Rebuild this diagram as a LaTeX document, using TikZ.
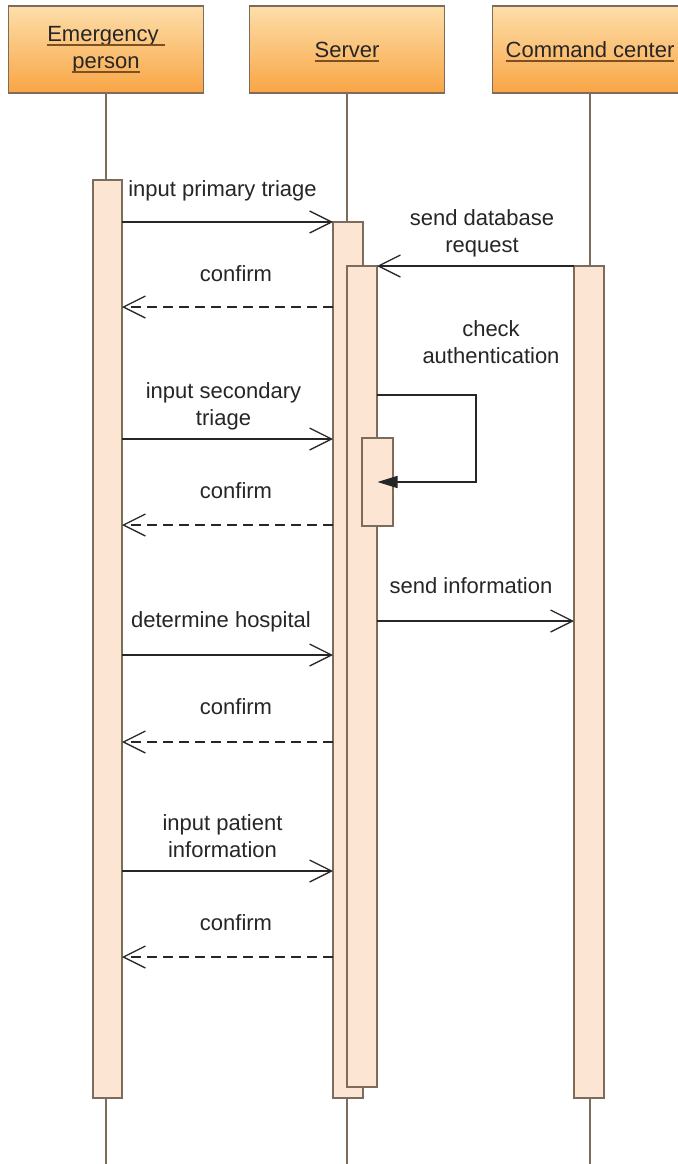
\documentclass[tikz,border=0pt]{standalone}
\usepackage{fontspec}
\setmainfont{Liberation Sans}
\usetikzlibrary{arrows.meta}

\definecolor{headtop}{RGB}{253,222,170}
\definecolor{headbot}{RGB}{249,165,68}
\definecolor{framecol}{RGB}{125,108,92}
\definecolor{barfill}{RGB}{253,229,211}
\definecolor{ulcol}{RGB}{125,80,35}
\definecolor{inkcol}{RGB}{38,38,38}

% underline drawn as a thick coloured rule below the word
\newcommand{\ulword}[1]{\sbox0{#1}\makebox[0pt][l]{\usebox0}\raisebox{-4.5pt}[0pt][0pt]{\textcolor{ulcol}{\rule{\wd0}{2pt}}}}

\tikzset{
  head/.style={draw=framecol, line width=1.2pt, top color=headtop, bottom color=headbot,
    minimum width=195pt, minimum height=87pt, inner sep=0pt, outer sep=0pt,
    align=center, font=\fontsize{22}{27}\selectfont, text=inkcol},
  bar/.style={draw=framecol, line width=1.2pt, fill=barfill, inner sep=0pt, outer sep=0pt, anchor=north},
  lifeline/.style={draw=framecol, line width=1.2pt},
  msg/.style={draw=inkcol, line width=1.3pt, -{Straight Barb[length=22pt,width=22pt,line width=1.3pt]}},
  reply/.style={msg, dash pattern=on 10pt off 6pt},
  selfmsg/.style={draw=inkcol, line width=1.5pt, -{Triangle[length=20pt,width=12pt]}},
  lbl/.style={font=\fontsize{22}{27}\selectfont, anchor=base, align=center, text=inkcol, inner sep=0pt}
}

\begin{document}
\begin{tikzpicture}[x=1pt,y=-1pt]
\useasboundingbox (0,0) rectangle (677,1164);
\fill[white] (0,0) rectangle (677,1164);

% participants
\node[head] (hEP) at (106,49.5) {\ulword{Emergency\ }\\\ulword{person}};
\node[head] (hSV) at (347,49.5) {\ulword{Server}};
\node[head] (hCC) at (590,49.5) {\ulword{Command center}};

% lifelines
\draw[lifeline] (hEP.south) -- (hEP.south |- 0,1164);
\draw[lifeline] (hSV.south) -- (hSV.south |- 0,1164);
\draw[lifeline] (hCC.south) -- (hCC.south |- 0,1164);

% activation bars
\node[bar, minimum width=29pt, minimum height=918pt] (epbar) at (107.5,180) {};
\node[bar, minimum width=30pt, minimum height=876pt] (srvA) at (348,222) {};
\node[bar, minimum width=30pt, minimum height=821pt] (srvB) at (362,266) {};
\node[bar, minimum width=31pt, minimum height=88pt] (srvC) at (377.5,438) {};
\node[bar, minimum width=30pt, minimum height=832pt] (ccbar) at (589,266) {};

% primary triage
\node[lbl] (l1) at (222.5,196) {input primary triage};
\draw[msg] (epbar.east |- 0,222) -- (srvA.west |- 0,222);
\node[lbl] (l2) at (236,281) {confirm};
\draw[reply] (srvA.west |- 0,307) -- (epbar.east |- 0,307);

% database request and authentication (base = last line)
\node[lbl] (l3) at (482,252) {send database\\request};
\draw[msg] (ccbar.north west) -- (srvB.north east);
\node[lbl] (l4) at (491,363) {check\\authentication};
\coordinate (loopA) at (476,395);
\coordinate (loopB) at (476,482);
\draw[selfmsg] (srvB.east |- loopA) -- (loopA) -- (loopB) -- (srvC.center |- loopB);

% secondary triage
\node[lbl] (l5) at (223.5,425) {input secondary\\triage};
\draw[msg] (epbar.east |- 0,439) -- (srvA.west |- 0,439);
\node[lbl] (l6) at (236,498) {confirm};
\draw[reply] (srvA.west |- 0,525) -- (epbar.east |- 0,525);

% information to command center
\node[lbl] (l7) at (471,593) {send information};
\draw[msg] (srvB.east |- 0,621) -- (ccbar.west |- 0,621);

% hospital
\node[lbl] (l8) at (221,627) {determine hospital};
\draw[msg] (epbar.east |- 0,655) -- (srvA.west |- 0,655);
\node[lbl] (l9) at (236,714) {confirm};
\draw[reply] (srvA.west |- 0,742) -- (epbar.east |- 0,742);

% patient information
\node[lbl] (l10) at (222.5,857) {input patient\\information};
\draw[msg] (epbar.east |- 0,871) -- (srvA.west |- 0,871);
\node[lbl] (l11) at (236,930) {confirm};
\draw[reply] (srvA.west |- 0,957) -- (epbar.east |- 0,957);
\end{tikzpicture}
\end{document}
